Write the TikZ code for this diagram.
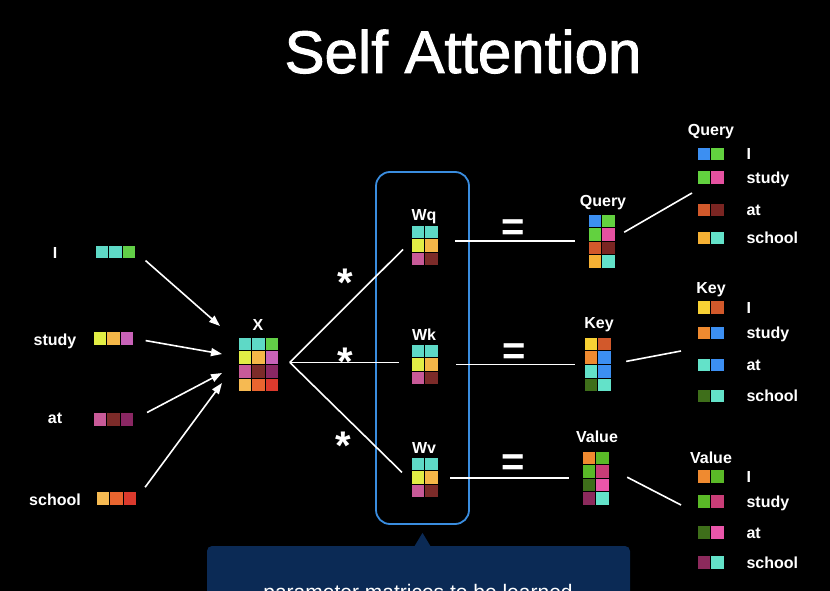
\documentclass[tikz,border=0pt]{standalone}
\usepackage{fontspec}
\setmainfont{Liberation Sans}
\newfontfamily\titelschrift[FakeBold=1.6]{Liberation Sans}
\usetikzlibrary{arrows.meta}

\definecolor{turq}{HTML}{5ED9C6}
\definecolor{lgruen}{HTML}{62CF47}
\definecolor{limette}{HTML}{E2EE45}
\definecolor{lorange}{HTML}{F5B748}
\definecolor{violett}{HTML}{C862B8}
\definecolor{rose}{HTML}{C85A98}
\definecolor{dunkelrot}{HTML}{7C2B29}
\definecolor{pflaume}{HTML}{8A2763}
\definecolor{sorange}{HTML}{F6BA52}
\definecolor{orange2}{HTML}{E9652F}
\definecolor{rot}{HTML}{DB3A2D}
\definecolor{blau}{HTML}{3C8FF2}
\definecolor{gruen}{HTML}{62D13F}
\definecolor{pink}{HTML}{E551A0}
\definecolor{rost}{HTML}{D2592B}
\definecolor{braunrot}{HTML}{7A2522}
\definecolor{gold}{HTML}{F6B134}
\definecolor{tuerkis}{HTML}{63E2C9}
\definecolor{gelb}{HTML}{F8D134}
\definecolor{korange}{HTML}{EF8A30}
\definecolor{dgruen}{HTML}{3E6E1A}
\definecolor{vgruen}{HTML}{5AB927}
\definecolor{magenta2}{HTML}{C93D77}
\definecolor{hpink}{HTML}{EA56AA}
\definecolor{wein}{HTML}{8C2A5C}
\definecolor{marine}{HTML}{0B2A55}
\definecolor{rahmen}{HTML}{3A8DDF}

\tikzset{
    zelle/.style={draw=black, line width=0.9pt},
    block/.style={inner sep=0pt, outer sep=0pt},
    wort/.style={text=white, anchor=base, font=\bfseries\fontsize{16}{18}\selectfont},
    titel/.style={text=white, anchor=base, font=\titelschrift\fontsize{60}{70}\selectfont},
    zeichen/.style={text=white, anchor=base, font=\bfseries\fontsize{40}{44}\selectfont},
    hinweis/.style={text=white, anchor=base, font=\fontsize{21}{24}\selectfont},
    pfeil/.style={draw=white, line width=1.6pt, -{Triangle[length=11pt,width=8pt]}},
    linie/.style={draw=white, line width=1.6pt},
    gruppe/.style={draw=rahmen, line width=1.8pt, rounded corners=14pt, minimum width=93pt, minimum height=352pt}
}

\newcommand{\zeile}[3]{%
    \foreach \farbe [count=\n from 0] in {#3}
        \filldraw[zelle, fill=\farbe] ({#1-6.8+13.6*\n},{#2-6.8}) rectangle ++(13.6,13.6);
}
\newcommand{\eintrag}[4]{%
    \zeile{703.8}{#2}{#3}
    \node[wort, anchor=base west] (#1) at (743,{#2+5.5}) {#4};
}

\begin{document}
\begin{tikzpicture}[x=1pt, y=-1pt]
    \useasboundingbox (0,0) rectangle (830,591);
    \clip (0,0) rectangle (830,591);
    \fill[black] (0,0) rectangle (830,591);
    \node[titel] (T) at (463,73) {Self Attention};

    \path node[wort] (I) at (55,258) {I}
        node[wort] (S) at (55,345) {study}
        node[wort] (A) at (55,423) {at}
        node[wort] (SC) at (55,505) {school}
        node[block, minimum width=40.8pt, minimum height=13.6pt] (vI) at (115.4,252) {}
        node[block, minimum width=40.8pt, minimum height=13.6pt] (vS) at (113.4,338.5) {}
        node[block, minimum width=40.8pt, minimum height=13.6pt] (vA) at (113.4,419.5) {}
        node[block, minimum width=40.8pt, minimum height=13.6pt] (vSC) at (116.4,498.5) {}
        node[block, minimum width=40.8pt, minimum height=54.4pt] (X) at (258.4,364.4) {}
        node[wort] (XL) at (258,330) {X};
    \zeile{101.8}{252}{turq,turq,lgruen}
    \zeile{99.8}{338.5}{limette,lorange,violett}
    \zeile{99.8}{419.5}{rose,dunkelrot,pflaume}
    \zeile{102.8}{498.5}{sorange,orange2,rot}
    \zeile{244.8}{344}{turq,turq,lgruen}
    \zeile{244.8}{357.6}{limette,lorange,violett}
    \zeile{244.8}{371.2}{rose,dunkelrot,pflaume}
    \zeile{244.8}{384.8}{sorange,orange2,rot}

    \coordinate (x1) at (220,326);
    \coordinate (x2) at (222,354);
    \coordinate (x3) at (222,373);
    \coordinate (x4) at (222,383);
    \draw[pfeil, shorten <=13pt] (vI.east) -- (x1);
    \draw[pfeil, shorten <=12pt] (vS.east) -- (x2);
    \draw[pfeil, shorten <=15pt] (vA.east) -- (x3);
    \draw[pfeil, shorten <=14pt] (vSC.east) -- (x4);

    \node[gruppe] (WG) at (422.5,348) {};
    \path node[block, minimum width=27.2pt, minimum height=40.8pt] (WQ) at (424.6,245.4) {}
        node[block, minimum width=27.2pt, minimum height=40.8pt] (WK) at (424.6,364.4) {}
        node[block, minimum width=27.2pt, minimum height=40.8pt] (WV) at (424.6,477.4) {}
        node[wort] (WQL) at (424,220) {Wq}
        node[wort] (WKL) at (424,340) {Wk}
        node[wort] (WVL) at (424,453) {Wv};
    \foreach \y in {231.8,350.8,463.8} {
        \zeile{417.8}{\y}{turq,turq}
        \zeile{417.8}{\y+13.6}{limette,lorange}
        \zeile{417.8}{\y+27.2}{rose,dunkelrot}
    }

    \coordinate (F) at ([xshift=11pt,yshift=2pt]X.east);
    \draw[linie] (F) -- ([xshift=-8pt,yshift=-4pt]WQ.west);
    \draw[linie] (F) -- ([xshift=-12pt]WK.west |- F);
    \draw[linie] (F) -- ([xshift=-9pt,yshift=5pt]WV.west);
    \path node[zeichen] (M1) at (345,296) {*}
        node[zeichen] (M2) at (345,375) {*}
        node[zeichen] (M3) at (343,459) {*};

    \path node[block, minimum width=27.2pt, minimum height=54.4pt] (Q) at (601.6,241.2) {}
        node[block, minimum width=27.2pt, minimum height=54.4pt] (K) at (597.6,364.4) {}
        node[block, minimum width=27.2pt, minimum height=54.4pt] (V) at (595.6,478.2) {}
        node[wort] (QL) at (603,206) {Query}
        node[wort] (KL) at (599,328) {Key}
        node[wort] (VL) at (597,442) {Value};
    \zeile{594.8}{220.8}{blau,gruen}
    \zeile{594.8}{234.4}{gruen,pink}
    \zeile{594.8}{248}{rost,braunrot}
    \zeile{594.8}{261.6}{gold,tuerkis}
    \zeile{590.8}{344}{gelb,rost}
    \zeile{590.8}{357.6}{korange,blau}
    \zeile{590.8}{371.2}{tuerkis,blau}
    \zeile{590.8}{384.8}{dgruen,tuerkis}
    \zeile{588.8}{457.8}{korange,vgruen}
    \zeile{588.8}{471.4}{vgruen,magenta2}
    \zeile{588.8}{485}{dgruen,hpink}
    \zeile{588.8}{498.6}{wein,tuerkis}

    \draw[linie] ([xshift=17pt]WQ.east |- Q.west) -- ([xshift=-13pt]Q.west);
    \draw[linie] ([xshift=18pt]WK.east |- K.west) -- ([xshift=-9pt]K.west);
    \draw[linie] ([xshift=12pt]WV.east |- V.west) -- ([xshift=-13pt]V.west);
    \path node[zeichen] (E1) at (513,240) {=}
        node[zeichen] (E2) at (514,364) {=}
        node[zeichen] (E3) at (513,475) {=};

    \node[wort] (LQ) at (711,136) {Query};
    \eintrag{LQ1}{154}{blau,gruen}{I}
    \eintrag{LQ2}{177.5}{gruen,pink}{study}
    \eintrag{LQ3}{210}{rost,braunrot}{at}
    \eintrag{LQ4}{238}{gold,tuerkis}{school}
    \node[wort] (LK) at (711,293) {Key};
    \eintrag{LK1}{307.5}{gelb,rost}{I}
    \eintrag{LK2}{333}{korange,blau}{study}
    \eintrag{LK3}{365}{tuerkis,blau}{at}
    \eintrag{LK4}{396}{dgruen,tuerkis}{school}
    \node[wort] (LV) at (711,463) {Value};
    \eintrag{LV1}{476.5}{korange,vgruen}{I}
    \eintrag{LV2}{501.5}{vgruen,magenta2}{study}
    \eintrag{LV3}{532.5}{dgruen,hpink}{at}
    \eintrag{LV4}{562.5}{wein,tuerkis}{school}

    \coordinate (lq) at (692,193);
    \coordinate (lk) at (681,351);
    \coordinate (lv) at (681,505);
    \draw[linie] ([xshift=9pt,yshift=9pt]Q.east) -- (lq);
    \draw[linie] ([xshift=15pt,yshift=3pt]K.east) -- (lk);
    \draw[linie] ([xshift=18pt,yshift=1pt]V.east) -- (lv);

    \fill[marine, rounded corners=5pt] (207,546) rectangle (630,640);
    \fill[marine] ([yshift=-8pt]WG.south) -- ++(9,15) -- ++(-18,0) -- cycle;
    \node[hinweis] (H) at (418,599) {parameter matrices to be learned};
\end{tikzpicture}
\end{document}
